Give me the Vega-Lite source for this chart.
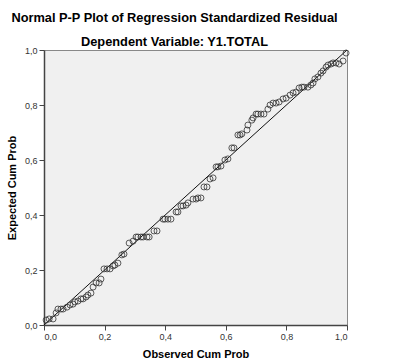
{
  "$schema": "https://vega.github.io/schema/vega-lite/v6.json",
  "autosize": "none",
  "width": 303,
  "height": 275,
  "padding": {"left": 44, "top": 50, "right": 72, "bottom": 39},
  "background": "white",
  "title": {
    "text": "Normal P-P Plot of Regression Standardized Residual",
    "subtitle": "Dependent Variable: Y1.TOTAL",
    "anchor": "middle",
    "frame": "group",
    "dx": -21,
    "offset": -3,
    "font": "Liberation Sans",
    "fontSize": 12.8,
    "fontWeight": "bold",
    "color": "#000",
    "subtitleFont": "Liberation Sans",
    "subtitleFontSize": 12.8,
    "subtitleFontWeight": "bold",
    "subtitleColor": "#000",
    "subtitlePadding": 11
  },
  "config": {
    "view": {"fill": "#f0f0f0", "stroke": "#888888", "strokeWidth": 1},
    "axis": {
      "grid": false,
      "domainColor": "#444444",
      "domainWidth": 1.5,
      "tickColor": "#444444",
      "tickSize": 5,
      "labelFont": "Liberation Sans",
      "labelFontSize": 9,
      "labelColor": "#333333",
      "titleFont": "Liberation Sans",
      "titleFontSize": 11,
      "titleFontWeight": "bold",
      "titleColor": "#000"
    }
  },
  "datasets": {
    "pts": [
      {"obs": 0.007, "exp": 0.018}, {"obs": 0.017, "exp": 0.022}, {"obs": 0.030, "exp": 0.022},
      {"obs": 0.040, "exp": 0.044}, {"obs": 0.046, "exp": 0.058}, {"obs": 0.056, "exp": 0.058},
      {"obs": 0.063, "exp": 0.058}, {"obs": 0.076, "exp": 0.065}, {"obs": 0.086, "exp": 0.073},
      {"obs": 0.096, "exp": 0.076}, {"obs": 0.102, "exp": 0.084}, {"obs": 0.112, "exp": 0.087},
      {"obs": 0.122, "exp": 0.095}, {"obs": 0.129, "exp": 0.095}, {"obs": 0.139, "exp": 0.102},
      {"obs": 0.145, "exp": 0.109}, {"obs": 0.155, "exp": 0.116}, {"obs": 0.162, "exp": 0.138},
      {"obs": 0.172, "exp": 0.153}, {"obs": 0.182, "exp": 0.153}, {"obs": 0.188, "exp": 0.167},
      {"obs": 0.198, "exp": 0.204}, {"obs": 0.208, "exp": 0.204}, {"obs": 0.218, "exp": 0.204},
      {"obs": 0.228, "exp": 0.215}, {"obs": 0.234, "exp": 0.218}, {"obs": 0.244, "exp": 0.225},
      {"obs": 0.257, "exp": 0.255}, {"obs": 0.264, "exp": 0.258}, {"obs": 0.281, "exp": 0.298},
      {"obs": 0.294, "exp": 0.305}, {"obs": 0.304, "exp": 0.320}, {"obs": 0.310, "exp": 0.320},
      {"obs": 0.320, "exp": 0.320}, {"obs": 0.327, "exp": 0.320}, {"obs": 0.340, "exp": 0.320},
      {"obs": 0.347, "exp": 0.320}, {"obs": 0.363, "exp": 0.342}, {"obs": 0.373, "exp": 0.342},
      {"obs": 0.393, "exp": 0.385}, {"obs": 0.399, "exp": 0.385}, {"obs": 0.409, "exp": 0.385},
      {"obs": 0.419, "exp": 0.385}, {"obs": 0.436, "exp": 0.411}, {"obs": 0.442, "exp": 0.411},
      {"obs": 0.452, "exp": 0.433}, {"obs": 0.459, "exp": 0.433}, {"obs": 0.469, "exp": 0.436},
      {"obs": 0.475, "exp": 0.444}, {"obs": 0.492, "exp": 0.458}, {"obs": 0.502, "exp": 0.458},
      {"obs": 0.508, "exp": 0.462}, {"obs": 0.518, "exp": 0.462}, {"obs": 0.528, "exp": 0.502},
      {"obs": 0.538, "exp": 0.502}, {"obs": 0.548, "exp": 0.531}, {"obs": 0.558, "exp": 0.535},
      {"obs": 0.568, "exp": 0.575}, {"obs": 0.574, "exp": 0.575}, {"obs": 0.584, "exp": 0.578},
      {"obs": 0.597, "exp": 0.600}, {"obs": 0.607, "exp": 0.604}, {"obs": 0.620, "exp": 0.644},
      {"obs": 0.627, "exp": 0.644}, {"obs": 0.640, "exp": 0.691}, {"obs": 0.647, "exp": 0.691},
      {"obs": 0.653, "exp": 0.695}, {"obs": 0.670, "exp": 0.709}, {"obs": 0.673, "exp": 0.727},
      {"obs": 0.686, "exp": 0.745}, {"obs": 0.690, "exp": 0.753}, {"obs": 0.700, "exp": 0.767},
      {"obs": 0.706, "exp": 0.767}, {"obs": 0.716, "exp": 0.767}, {"obs": 0.726, "exp": 0.767},
      {"obs": 0.739, "exp": 0.785}, {"obs": 0.746, "exp": 0.800}, {"obs": 0.756, "exp": 0.807},
      {"obs": 0.766, "exp": 0.807}, {"obs": 0.776, "exp": 0.811}, {"obs": 0.789, "exp": 0.822},
      {"obs": 0.799, "exp": 0.825}, {"obs": 0.812, "exp": 0.836}, {"obs": 0.822, "exp": 0.844},
      {"obs": 0.832, "exp": 0.847}, {"obs": 0.842, "exp": 0.862}, {"obs": 0.851, "exp": 0.865},
      {"obs": 0.858, "exp": 0.865}, {"obs": 0.871, "exp": 0.865}, {"obs": 0.881, "exp": 0.873},
      {"obs": 0.888, "exp": 0.880}, {"obs": 0.894, "exp": 0.895}, {"obs": 0.904, "exp": 0.902},
      {"obs": 0.914, "exp": 0.916}, {"obs": 0.921, "exp": 0.924}, {"obs": 0.931, "exp": 0.938},
      {"obs": 0.937, "exp": 0.945}, {"obs": 0.947, "exp": 0.949}, {"obs": 0.954, "exp": 0.953},
      {"obs": 0.964, "exp": 0.953}, {"obs": 0.974, "exp": 0.949}, {"obs": 0.987, "exp": 0.960},
      {"obs": 0.997, "exp": 0.989}
    ],
    "diag": [{"obs": 0, "exp": 0}, {"obs": 1, "exp": 1}]
  },
  "layer": [
    {
      "data": {"name": "diag"},
      "mark": {"type": "line", "color": "#111111", "strokeWidth": 1},
      "encoding": {
        "x": {"field": "obs", "type": "quantitative"},
        "y": {"field": "exp", "type": "quantitative"}
      }
    },
    {
      "data": {"name": "pts"},
      "mark": {"type": "point", "shape": "circle", "filled": false, "size": 36, "stroke": "#333333", "strokeWidth": 0.8, "opacity": 1},
      "encoding": {
        "x": {
          "field": "obs", "type": "quantitative",
          "scale": {"domain": [0, 1], "nice": false},
          "axis": {"values": [0, 0.2, 0.4, 0.6, 0.8, 1], "format": ".1f", "labelExpr": "replace(datum.label, '.', ',')", "title": "Observed Cum Prob", "labelPadding": 2, "titlePadding": 7}
        },
        "y": {
          "field": "exp", "type": "quantitative",
          "scale": {"domain": [0, 1], "nice": false},
          "axis": {"values": [0, 0.2, 0.4, 0.6, 0.8, 1], "format": ".1f", "labelExpr": "replace(datum.label, '.', ',')", "title": "Expected Cum Prob", "labelPadding": 2, "titlePadding": 7}
        }
      }
    }
  ]
}
